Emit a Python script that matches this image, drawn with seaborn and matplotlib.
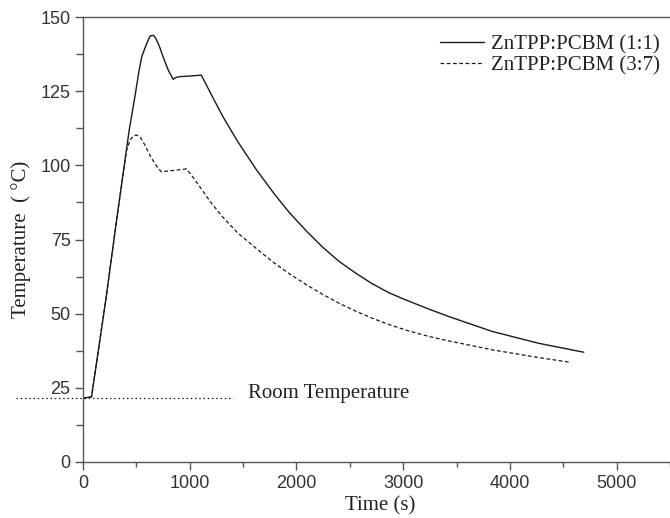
import matplotlib
matplotlib.use("Agg")
import matplotlib.pyplot as plt
import seaborn as sns
import pandas as pd
from matplotlib.ticker import MultipleLocator

# --- data ---
t_11 = [0, 80, 215, 315, 408, 433, 486, 526, 550, 579, 610, 632, 660, 682, 715, 750, 800,
        844, 870, 907, 1000, 1109, 1200, 1311, 1450, 1623, 1800, 1935, 2100, 2246, 2400,
        2558, 2700, 2869, 3000, 3243, 3430, 3835, 4271, 4692]
T_11 = [21.5, 22, 55, 81.6, 105.5, 111.9, 123.1, 132.1, 136.5, 139.4, 142.2, 143.7, 143.8,
        142.8, 140.2, 136.6, 132, 129, 129.6, 129.9, 130.1, 130.4, 124, 116.4, 108.0, 98.6,
        90.0, 84.0, 77.6, 72.4, 67.6, 63.6, 60.3, 57.0, 55.0, 51.5, 49.0, 44.0, 40.0, 37.0]

t_37 = [0, 80, 215, 315, 408, 440, 475, 508, 540, 580, 640, 700, 735, 800, 900, 969, 1016,
        1100, 1200, 1311, 1450, 1623, 1780, 1935, 2100, 2246, 2400, 2558, 2700, 2869, 3050,
        3243, 3430, 3835, 4271, 4567]
T_37 = [21.5, 22, 55, 81.6, 105, 108.5, 110.0, 110.2, 109.3, 106.8, 102.5, 99.2, 97.8, 98.1,
        98.5, 98.8, 96.7, 92.5, 87.4, 82.5, 77.2, 72.0, 67.4, 63.4, 59.6, 56.5, 53.5, 50.8,
        48.6, 46.3, 44.2, 42.3, 40.8, 37.8, 35.2, 33.6]

series_labels = ["ZnTPP:PCBM (1:1)", "ZnTPP:PCBM (3:7)"]
room_temp = 21.5
room_x = [-626, 1402]
room_label = "Room Temperature"

sns.set_theme(style="ticks")
plt.rcParams["font.family"] = ["Liberation Sans", "DejaVu Sans"]
plt.rcParams["lines.solid_joinstyle"] = "round"
plt.rcParams["lines.dash_joinstyle"] = "round"

fig = plt.figure(figsize=(6.7, 5.18), dpi=100)
ax = fig.add_axes([83/670, 56/518, 1 - 83/670, (462-17)/518])

df11 = pd.DataFrame({"t": t_11, "T": T_11})
df37 = pd.DataFrame({"t": t_37, "T": T_37})
lc = "#1a1a1a"
serif = "Liberation Serif"
sns.lineplot(data=df11, x="t", y="T", ax=ax, color=lc, lw=1.0, sort=False,
             label=series_labels[0])
sns.lineplot(data=df37, x="t", y="T", ax=ax, color=lc, lw=0.9, sort=False,
             label=series_labels[1], linestyle=(0, (3, 2)))

ax.plot(room_x, [room_temp, room_temp], color=lc, lw=0.9, linestyle=(0, (1.2, 2.2)),
        clip_on=False)
ax.text(1542, 23.0, room_label, family=[serif], fontsize=15,
        va="center", ha="left", color="#222222")

ax.set_xlim(0, 5500)
ax.set_ylim(0, 150)
ax.xaxis.set_major_locator(MultipleLocator(1000))
ax.xaxis.set_minor_locator(MultipleLocator(500))
ax.yaxis.set_major_locator(MultipleLocator(25))
ax.yaxis.set_minor_locator(MultipleLocator(12.5))

spine_c = "#555555"
for s in ["left", "bottom", "top"]:
    ax.spines[s].set_color(spine_c)
    ax.spines[s].set_linewidth(1.0)
ax.spines["right"].set_visible(False)
ax.tick_params(which="major", direction="out", length=6, width=1.0, color=spine_c,
               labelsize=13, labelcolor="#333333", pad=3)
ax.tick_params(which="minor", direction="out", length=3.5, width=1.0, color=spine_c)
ax.tick_params(axis="y", which="minor", length=5)
ax.tick_params(top=False, right=False, which="both")

ax.set_xlabel("Time (s)", family=[serif], fontsize=15, color="#222222")
ax.set_ylabel("Temperature  ( °C)", family=[serif], fontsize=15, color="#222222")
ax.xaxis.set_label_coords(0.506, -0.078)
ax.yaxis.set_label_coords(-0.088, 0.5)

leg = ax.legend(loc="upper right", bbox_to_anchor=(0.983, 0.96), frameon=False,
                prop={"family": serif, "size": 15}, handlelength=2.1,
                handletextpad=0.34, labelspacing=0.05, borderpad=0, borderaxespad=0)
for txt in leg.get_texts():
    txt.set_color("#222222")

fig.savefig("out.png", dpi=100)
